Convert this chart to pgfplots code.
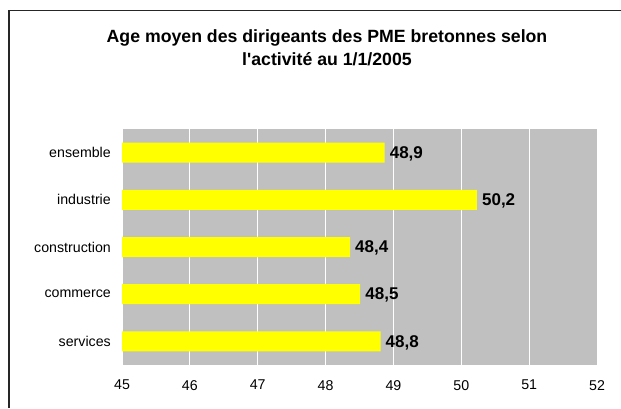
\documentclass[border=0pt]{standalone}
\usepackage{pgfplots}
\pgfplotsset{compat=1.18}
\usepackage{fontspec}
\setmainfont{Liberation Sans}
\definecolor{plotgray}{HTML}{C0C0C0}
\definecolor{baryellow}{HTML}{FFFF00}
\begin{document}
\begin{tikzpicture}[x=1bp,y=1bp]
\path[use as bounding box, fill=white] (0,0) rectangle (621,408);
\draw[line width=1.3bp, black!85] (9,0) -- (9,397.5) -- (621,397.5);
\node[anchor=base, inner sep=0pt, font=\fontsize{17.7bp}{21bp}\bfseries\selectfont] at (327,365.3) {Age moyen des dirigeants des PME bretonnes selon};
\node[anchor=base, inner sep=0pt, font=\fontsize{17.7bp}{21bp}\bfseries\selectfont] at (327,343) {l\textquotesingle activité au 1/1/2005};
\begin{axis}[
 at={(122bp,43bp)}, anchor=south west, scale only axis, width=475bp, height=236bp,
 xbar, bar width=20bp,
 xmin=45, xmax=52, ymin=-0.5, ymax=4.5,
 xtick={45,...,52}, ytick={0,...,4},
 yticklabels={services,commerce,construction,industrie,ensemble},
 axis background/.style={fill=plotgray},
 axis line style={draw=none},
 major tick length=0pt,
 xmajorgrids, grid style={white, line width=0.8bp},
 tick label style={font=\fontsize{14.2bp}{17bp}\selectfont, inner sep=0pt},
 yticklabel style={xshift=-11bp},
 xticklabel style={yshift=-15bp},
 /pgf/number format/assume math mode=true,
 point meta=x,
 nodes near coords={\pgfmathprintnumber[fixed,fixed zerofill,precision=1,use comma,assume math mode=true]{\pgfplotspointmeta}},
 nodes near coords style={font=\fontsize{17bp}{20bp}\bfseries\selectfont, anchor=west, inner sep=0pt, xshift=5bp, yshift=-1bp},
]
\addplot[fill=baryellow, draw=none] coordinates {(48.81,0) (48.51,1) (48.36,2) (50.23,3) (48.87,4)};
\end{axis}
\end{tikzpicture}
\end{document}
